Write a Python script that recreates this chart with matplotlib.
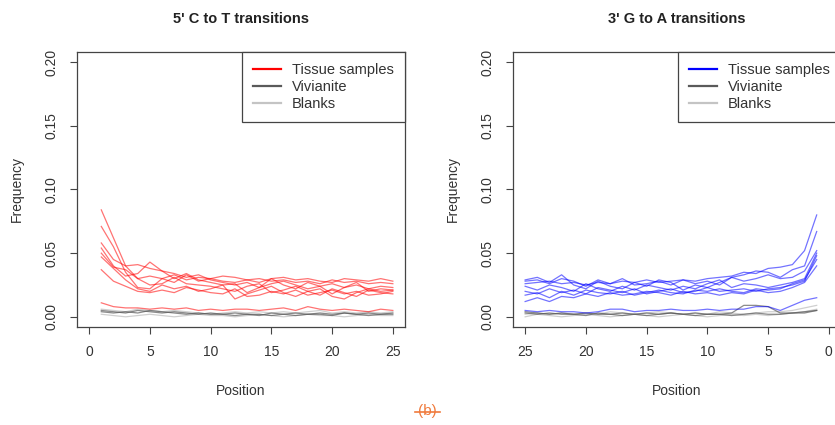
import numpy as np
import matplotlib.pyplot as plt
from matplotlib.lines import Line2D

plt.rcParams['font.family'] = ['Liberation Sans', 'DejaVu Sans']

# Positions from the read end (1..25)
positions = np.arange(1, 26)

# 5' C to T transitions (left panel)
ct_tissue = [
    [0.084, 0.062, 0.040, 0.030, 0.032, 0.030, 0.033, 0.029, 0.031, 0.030, 0.028, 0.027, 0.029, 0.030, 0.028, 0.029, 0.027, 0.028, 0.026, 0.029, 0.027, 0.028, 0.026, 0.027, 0.026],
    [0.071, 0.055, 0.035, 0.023, 0.022, 0.030, 0.027, 0.033, 0.028, 0.030, 0.032, 0.031, 0.029, 0.027, 0.030, 0.031, 0.029, 0.030, 0.028, 0.027, 0.030, 0.029, 0.028, 0.030, 0.028],
    [0.058, 0.045, 0.040, 0.041, 0.038, 0.036, 0.034, 0.031, 0.033, 0.029, 0.027, 0.025, 0.027, 0.023, 0.026, 0.028, 0.025, 0.022, 0.024, 0.026, 0.023, 0.025, 0.022, 0.024, 0.023],
    [0.054, 0.040, 0.032, 0.034, 0.043, 0.036, 0.030, 0.034, 0.029, 0.027, 0.025, 0.026, 0.019, 0.023, 0.030, 0.025, 0.022, 0.027, 0.024, 0.018, 0.023, 0.027, 0.020, 0.022, 0.021],
    [0.050, 0.039, 0.037, 0.030, 0.025, 0.026, 0.031, 0.026, 0.025, 0.024, 0.022, 0.020, 0.024, 0.026, 0.019, 0.021, 0.024, 0.020, 0.017, 0.022, 0.019, 0.016, 0.021, 0.019, 0.018],
    [0.047, 0.038, 0.029, 0.022, 0.020, 0.025, 0.022, 0.024, 0.020, 0.022, 0.025, 0.014, 0.018, 0.021, 0.024, 0.019, 0.016, 0.020, 0.022, 0.016, 0.014, 0.019, 0.022, 0.020, 0.021],
    [0.037, 0.028, 0.024, 0.020, 0.019, 0.021, 0.019, 0.023, 0.021, 0.019, 0.018, 0.022, 0.016, 0.017, 0.020, 0.018, 0.021, 0.017, 0.019, 0.021, 0.018, 0.020, 0.017, 0.018, 0.020],
    [0.011, 0.008, 0.007, 0.007, 0.006, 0.007, 0.006, 0.007, 0.005, 0.006, 0.005, 0.006, 0.006, 0.005, 0.006, 0.007, 0.005, 0.008, 0.006, 0.005, 0.006, 0.005, 0.004, 0.006, 0.005],
]
ct_vivianite = [
    [0.005, 0.004, 0.003, 0.005, 0.004, 0.003, 0.004, 0.003, 0.002, 0.003, 0.002, 0.003, 0.002, 0.001, 0.003, 0.002, 0.003, 0.002, 0.003, 0.002, 0.003, 0.002, 0.003, 0.002, 0.003],
    [0.004, 0.003, 0.004, 0.003, 0.005, 0.004, 0.003, 0.002, 0.003, 0.002, 0.002, 0.001, 0.002, 0.002, 0.001, 0.002, 0.001, 0.002, 0.002, 0.001, 0.003, 0.002, 0.001, 0.002, 0.002],
]
ct_blanks = [
    [0.006, 0.005, 0.004, 0.006, 0.005, 0.004, 0.005, 0.004, 0.003, 0.002, 0.003, 0.004, 0.003, 0.004, 0.003, 0.004, 0.003, 0.004, 0.005, 0.003, 0.004, 0.003, 0.004, 0.003, 0.004],
    [0.002, 0.001, 0.000, 0.001, 0.002, 0.001, 0.000, 0.001, 0.002, 0.001, 0.001, 0.000, 0.001, 0.002, 0.001, 0.000, 0.001, 0.002, 0.001, 0.001, 0.000, 0.001, 0.002, 0.001, 0.001],
]

# 3' G to A transitions (right panel)
ga_tissue = [
    [0.080, 0.052, 0.041, 0.039, 0.038, 0.034, 0.035, 0.032, 0.031, 0.030, 0.028, 0.029, 0.028, 0.027, 0.029, 0.027, 0.028, 0.026, 0.027, 0.025, 0.027, 0.026, 0.028, 0.027, 0.026],
    [0.067, 0.040, 0.037, 0.031, 0.035, 0.036, 0.033, 0.031, 0.025, 0.028, 0.026, 0.029, 0.025, 0.028, 0.026, 0.025, 0.030, 0.026, 0.029, 0.024, 0.028, 0.030, 0.026, 0.029, 0.028],
    [0.052, 0.036, 0.031, 0.030, 0.033, 0.030, 0.028, 0.031, 0.027, 0.023, 0.025, 0.021, 0.027, 0.029, 0.024, 0.027, 0.022, 0.024, 0.028, 0.022, 0.025, 0.033, 0.027, 0.031, 0.029],
    [0.050, 0.030, 0.027, 0.025, 0.023, 0.025, 0.026, 0.023, 0.029, 0.026, 0.022, 0.024, 0.021, 0.023, 0.025, 0.021, 0.024, 0.020, 0.022, 0.026, 0.020, 0.023, 0.025, 0.021, 0.024],
    [0.048, 0.028, 0.025, 0.023, 0.022, 0.020, 0.022, 0.021, 0.020, 0.023, 0.020, 0.019, 0.022, 0.020, 0.018, 0.022, 0.019, 0.021, 0.023, 0.018, 0.021, 0.019, 0.022, 0.018, 0.020],
    [0.045, 0.029, 0.026, 0.022, 0.021, 0.022, 0.019, 0.020, 0.022, 0.020, 0.021, 0.018, 0.019, 0.021, 0.019, 0.017, 0.020, 0.018, 0.019, 0.021, 0.017, 0.020, 0.015, 0.019, 0.017],
    [0.040, 0.027, 0.023, 0.020, 0.019, 0.021, 0.018, 0.019, 0.017, 0.019, 0.018, 0.020, 0.017, 0.019, 0.020, 0.018, 0.017, 0.019, 0.016, 0.018, 0.015, 0.016, 0.012, 0.015, 0.012],
    [0.015, 0.013, 0.009, 0.005, 0.008, 0.008, 0.006, 0.006, 0.005, 0.006, 0.005, 0.005, 0.006, 0.005, 0.005, 0.004, 0.006, 0.006, 0.004, 0.003, 0.004, 0.004, 0.005, 0.004, 0.005],
]
ga_vivianite = [
    [0.005, 0.004, 0.003, 0.003, 0.008, 0.009, 0.009, 0.003, 0.002, 0.002, 0.003, 0.002, 0.003, 0.002, 0.003, 0.002, 0.003, 0.002, 0.002, 0.003, 0.002, 0.002, 0.003, 0.002, 0.003],
    [0.005, 0.003, 0.003, 0.002, 0.002, 0.003, 0.002, 0.001, 0.002, 0.002, 0.001, 0.002, 0.003, 0.002, 0.001, 0.002, 0.001, 0.002, 0.003, 0.001, 0.002, 0.003, 0.002, 0.003, 0.004],
]
ga_blanks = [
    [0.009, 0.007, 0.005, 0.004, 0.004, 0.003, 0.002, 0.003, 0.004, 0.002, 0.003, 0.002, 0.003, 0.004, 0.003, 0.002, 0.003, 0.004, 0.002, 0.003, 0.002, 0.003, 0.002, 0.003, 0.002],
    [0.006, 0.004, 0.003, 0.002, 0.001, 0.002, 0.001, 0.002, 0.001, 0.000, 0.001, 0.002, 0.001, 0.000, 0.001, 0.002, 0.001, 0.000, 0.001, 0.002, 0.001, 0.000, 0.001, 0.002, 0.000],
]

x_ticks = [0, 5, 10, 15, 20, 25]
y_ticks = [0.00, 0.05, 0.10, 0.15, 0.20]
legend_labels = ["Tissue samples", "Vivianite", "Blanks"]

axis_col = '#444444'
dark_grey = '#5a5a5a'
light_grey = '#c4c4c4'

fig = plt.figure(figsize=(8.35, 4.25), dpi=100)
ax_l = fig.add_axes([77 / 835, 1 - 327 / 425, 328 / 835, 275 / 425])
ax_r = fig.add_axes([513 / 835, 1 - 327 / 425, 328 / 835, 275 / 425])


def draw_panel(ax, title, tissue, vivianite, blanks, colour, reverse):
    for s in blanks:
        ax.plot(positions, s, color=light_grey, lw=0.9, alpha=0.8)
    for s in vivianite:
        ax.plot(positions, s, color=dark_grey, lw=0.9, alpha=0.7)
    for s in tissue:
        ax.plot(positions, s, color=colour, lw=0.9, alpha=0.55)

    ax.set_xlim(-1, 26)
    if reverse:
        ax.set_xlim(26, -1)
    ax.set_ylim(-0.008, 0.208)
    ax.set_xticks(x_ticks)
    ax.set_yticks(y_ticks)
    ax.set_yticklabels(["%.2f" % v for v in y_ticks])
    ax.tick_params(axis='both', length=5, width=0.8, color=axis_col,
                   labelcolor='#333333', labelsize=10, pad=8)
    ax.tick_params(axis='y', labelrotation=90)
    for lab in ax.get_yticklabels():
        lab.set_va('center')
    for sp in ax.spines.values():
        sp.set_color(axis_col)
        sp.set_linewidth(0.9)

    ax.set_title(title, fontsize=10.5, fontweight='bold', pad=21, color='#222222')
    ax.set_xlabel("Position", fontsize=10, labelpad=18, color='#333333')
    ax.set_ylabel("Frequency", fontsize=10, labelpad=15, color='#333333')

    handles = [Line2D([], [], color=colour, lw=1.6),
               Line2D([], [], color=dark_grey, lw=1.6),
               Line2D([], [], color=light_grey, lw=1.6)]
    leg = ax.legend(handles, legend_labels, loc='upper right', borderaxespad=0,
                    fancybox=False, framealpha=1, edgecolor=axis_col,
                    fontsize=10.5, handlelength=1.9, handletextpad=0.8,
                    labelspacing=0.22, borderpad=0.75)
    leg.get_frame().set_linewidth(0.9)
    for t in leg.get_texts():
        t.set_color('#333333')


draw_panel(ax_l, "5' C to T transitions", ct_tissue, ct_vivianite, ct_blanks, '#ff0000', False)
draw_panel(ax_r, "3' G to A transitions", ga_tissue, ga_vivianite, ga_blanks, '#0000ff', True)

# panel tag, struck through
fig.text(427 / 835, 1 - 411 / 425, "(b)", color='#f07a3c', fontsize=11,
         ha='center', va='center')
fig.add_artist(Line2D([415 / 835, 440 / 835], [1 - 412 / 425, 1 - 412 / 425],
                      transform=fig.transFigure, color='#f07a3c', lw=1.2))

fig.savefig("out.png", dpi=100)
